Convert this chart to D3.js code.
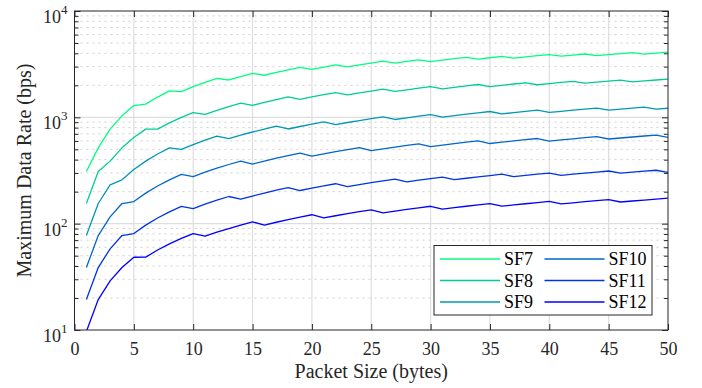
<!DOCTYPE html>
<html>
<head>
<meta charset="utf-8">
<script src="https://cdn.jsdelivr.net/npm/d3@7"></script>
<style>
  body { margin: 0; background: #fff; }
</style>
</head>
<body>
<script>
// packet sizes on the x axis (bytes)
let packetSize = [1,2,3,4,5,6,7,8,9,10,11,12,13,14,15,16,17,18,19,20,21,22,23,24,25,
    26,27,28,29,30,31,32,33,34,35,36,37,38,39,40,41,42,43,44,45,46,47,48,49,50];

// maximum data rate (bps) per spreading factor
let sf7 = [309.4,516.5,774.8,1033.1,1291.3,1329.8,1551.4,1773.0,1746.9,1941.0,2135.1,2329.2,2244.5,2417.1,2589.8,
    2487.6,2643.0,2798.5,2954.0,2828.1,2969.5,3110.9,2982.4,3112.0,3241.7,3371.4,3232.8,3352.5,3472.2,3336.3,
    3447.5,3558.7,3670.0,3529.9,3633.7,3737.5,3602.0,3699.4,3796.7,3894.1,3757.3,3849.0,3940.6,3808.9,3895.4,
    3982.0,4068.6,3937.0,4019.0,4101.0];
let sf8 = [154.7,309.4,387.4,516.5,645.7,774.8,775.7,886.5,997.3,1108.2,1067.5,1164.6,1261.6,1358.7,1294.9,
    1381.2,1467.5,1553.9,1477.0,1554.7,1632.5,1710.2,1626.1,1696.8,1767.5,1838.2,1750.5,1815.4,1880.2,1945.0,
    1855.8,1915.7,1975.6,2035.4,1946.2,2001.8,2057.4,2113.0,2024.5,2076.4,2128.3,2180.2,2093.1,2141.7,2190.4,
    2239.1,2153.6,2199.4,2245.2,2291.1];
let sf9 = [77.35,154.7,232.1,258.3,322.8,387.4,452.0,516.5,498.7,554.1,609.5,664.9,630.8,679.3,727.9,
    776.4,824.9,776.9,820.1,863.3,906.4,855.1,894.0,932.8,971.7,1010.6,954.5,989.8,1025.2,1060.5,
    1004.9,1037.3,1069.8,1102.2,1134.6,1077.6,1107.5,1137.5,1167.4,1112.1,1139.9,1167.7,1195.5,1223.3,1168.0,
    1193.9,1219.9,1245.8,1192.6,1216.9];
let sf10 = [38.68,77.35,116.0,154.7,161.4,193.7,226.0,258.3,290.5,277.0,304.7,332.4,360.1,387.9,363.9,
    388.2,412.5,436.7,461.0,431.6,453.2,474.8,496.4,518.0,485.8,505.3,524.7,544.1,563.6,530.3,
    547.9,565.6,583.3,601.0,567.3,583.5,599.7,615.9,632.1,598.7,613.6,628.6,643.6,658.5,625.6,
    639.5,653.4,667.3,681.2,648.9];
let sf11 = [19.34,38.68,58.01,77.35,80.71,96.85,112.99,129.13,145.27,138.52,152.37,166.22,180.08,169.84,181.97,
    194.10,206.23,218.36,205.02,215.82,226.61,237.40,223.49,233.21,242.93,252.64,262.36,247.45,256.29,265.13,
    273.97,259.34,267.44,275.54,283.65,291.75,276.88,284.36,291.85,299.33,284.97,291.93,298.88,305.83,312.78,
    298.48,304.97,311.46,317.95,304.22];
let sf12 = [9.67,19.34,29.01,38.68,48.35,48.42,56.50,64.57,72.64,80.71,76.19,83.11,90.04,96.96,103.89,
    97.05,103.11,109.18,115.25,121.31,113.30,118.70,124.09,129.49,134.88,126.32,131.18,136.04,140.90,145.76,
    136.98,141.40,145.82,150.24,154.66,145.88,149.93,153.98,158.03,162.08,153.41,157.15,160.89,164.63,168.37,
    159.87,163.34,166.82,170.29,173.77];

let seriesNames = ["SF7", "SF8", "SF9", "SF10", "SF11", "SF12"];
let seriesColors = ["#00ff80", "#00cc99", "#0099b3", "#0066cc", "#0033e6", "#0000ff"];

// tick values
let xTicks = [0, 5, 10, 15, 20, 25, 30, 35, 40, 45, 50];
let yTicks = [10, 100, 1000, 10000];
let yTickExp = ["1", "2", "3", "4"];

let width = 702, height = 388;
let plot = {left: 74.5, right: 668, top: 11, bottom: 330};
let axisColor = "#262626";

let svg = d3.select("body")
    .append("svg")
    .attr("width", width)
    .attr("height", height)
    .style("font-family", "'Liberation Serif', 'Times New Roman', serif");

let x = d3.scaleLinear()
    .domain([0, 50])
    .range([plot.left, plot.right]);

let y = d3.scaleLog()
    .domain([10, 10000])
    .range([plot.bottom, plot.top]);

// minor tick values for the log axis: 2..9 of every decade
let yMinor = [];
[10, 100, 1000].forEach(d => {
    for (let m = 2; m <= 9; m++) yMinor.push(d * m);
});

// minor grid (dotted)
svg.append("g")
    .selectAll("line")
    .data(yMinor)
    .enter().append("line")
    .attr("x1", plot.left).attr("x2", plot.right)
    .attr("y1", d => y(d)).attr("y2", d => y(d))
    .attr("stroke", "#cfcfcf")
    .attr("stroke-width", 1)
    .attr("stroke-dasharray", "2,4");

// major grid
svg.append("g")
    .selectAll("line")
    .data(yTicks.slice(1, -1))
    .enter().append("line")
    .attr("x1", plot.left).attr("x2", plot.right)
    .attr("y1", d => y(d)).attr("y2", d => y(d))
    .attr("stroke", "#dedede")
    .attr("stroke-width", 1.2);

svg.append("g")
    .selectAll("line")
    .data(xTicks.slice(1, -1))
    .enter().append("line")
    .attr("x1", d => x(d)).attr("x2", d => x(d))
    .attr("y1", plot.top).attr("y2", plot.bottom)
    .attr("stroke", "#dedede")
    .attr("stroke-width", 1.2);

// clip the curves to the plot box
svg.append("clipPath")
    .attr("id", "plotClip")
    .append("rect")
    .attr("x", plot.left).attr("y", plot.top)
    .attr("width", plot.right - plot.left)
    .attr("height", plot.bottom - plot.top);

let allSeries = [sf7, sf8, sf9, sf10, sf11, sf12];

let line = d3.line()
    .x((d, i) => x(packetSize[i]))
    .y(d => y(d));

svg.append("g")
    .attr("clip-path", "url(#plotClip)")
    .selectAll("path")
    .data(allSeries)
    .enter().append("path")
    .attr("d", d => line(d))
    .attr("fill", "none")
    .attr("stroke", (d, i) => seriesColors[i])
    .attr("stroke-width", 1.3)
    .attr("stroke-linejoin", "round");

// axes (ticks point inwards)
let xBottom = svg.append("g")
    .attr("transform", `translate(0, ${plot.bottom})`)
    .call(d3.axisBottom(x).tickValues(xTicks).tickSize(-6).tickPadding(12).tickSizeOuter(0));
let xTop = svg.append("g")
    .attr("transform", `translate(0, ${plot.top})`)
    .call(d3.axisTop(x).tickValues(xTicks).tickSize(-6).tickFormat("").tickSizeOuter(0));

let yLeftMinor = svg.append("g")
    .attr("transform", `translate(${plot.left}, 0)`)
    .call(d3.axisLeft(y).tickValues(yMinor).tickSize(-4).tickFormat("").tickSizeOuter(0));
let yRightMinor = svg.append("g")
    .attr("transform", `translate(${plot.right}, 0)`)
    .call(d3.axisRight(y).tickValues(yMinor).tickSize(-4).tickFormat("").tickSizeOuter(0));
let yLeft = svg.append("g")
    .attr("transform", `translate(${plot.left}, 0)`)
    .call(d3.axisLeft(y).tickValues(yTicks).tickSize(-6).tickFormat("").tickSizeOuter(0));
let yRight = svg.append("g")
    .attr("transform", `translate(${plot.right}, 0)`)
    .call(d3.axisRight(y).tickValues(yTicks).tickSize(-6).tickFormat("").tickSizeOuter(0));

[xBottom, xTop, yLeftMinor, yRightMinor, yLeft, yRight].forEach(g => {
    g.select(".domain").remove();
    g.selectAll(".tick line").attr("stroke", axisColor).attr("stroke-width", 1);
});

xBottom.selectAll(".tick text")
    .attr("fill", axisColor)
    .style("font-family", "'Liberation Serif', serif")
    .style("font-size", "18px");

// y tick labels as 10^n
let yLabels = svg.append("g")
    .selectAll("text")
    .data(yTicks)
    .enter().append("text")
    .attr("x", plot.left - 7)
    .attr("y", d => y(d) + 12)
    .attr("text-anchor", "end")
    .attr("fill", axisColor)
    .style("font-size", "18px");
yLabels.append("tspan").text("10");
yLabels.append("tspan")
    .attr("dy", -9)
    .style("font-size", "13px")
    .text((d, i) => yTickExp[i]);

// plot box
svg.append("rect")
    .attr("x", plot.left).attr("y", plot.top)
    .attr("width", plot.right - plot.left)
    .attr("height", plot.bottom - plot.top)
    .attr("fill", "none")
    .attr("stroke", axisColor)
    .attr("stroke-width", 1);

// axis titles
svg.append("text")
    .attr("x", (plot.left + plot.right) / 2)
    .attr("y", 378)
    .attr("text-anchor", "middle")
    .attr("fill", axisColor)
    .style("font-size", "20px")
    .text("Packet Size (bytes)");

svg.append("text")
    .attr("transform", `translate(31, ${(plot.top + plot.bottom) / 2}) rotate(-90)`)
    .attr("text-anchor", "middle")
    .attr("fill", axisColor)
    .style("font-size", "20px")
    .text("Maximum Data Rate (bps)");

// legend
let legend = svg.append("g");
legend.append("rect")
    .attr("x", 434).attr("y", 245.5)
    .attr("width", 218).attr("height", 69.5)
    .attr("fill", "#fff")
    .attr("stroke", axisColor)
    .attr("stroke-width", 1);

let entry = legend.selectAll(".entry")
    .data(seriesNames)
    .enter().append("g")
    .attr("class", "entry")
    .attr("transform", (d, i) => `translate(${i < 3 ? 440 : 544.5}, ${259 + (i % 3) * 21.5})`);

entry.append("line")
    .attr("x1", 0).attr("x2", 60)
    .attr("stroke", (d, i) => seriesColors[i])
    .attr("stroke-width", 1.5);

entry.append("text")
    .attr("x", 64)
    .attr("y", 6)
    .attr("fill", "#000")
    .style("font-size", "18px")
    .text(d => d);
</script>
</body>
</html>
